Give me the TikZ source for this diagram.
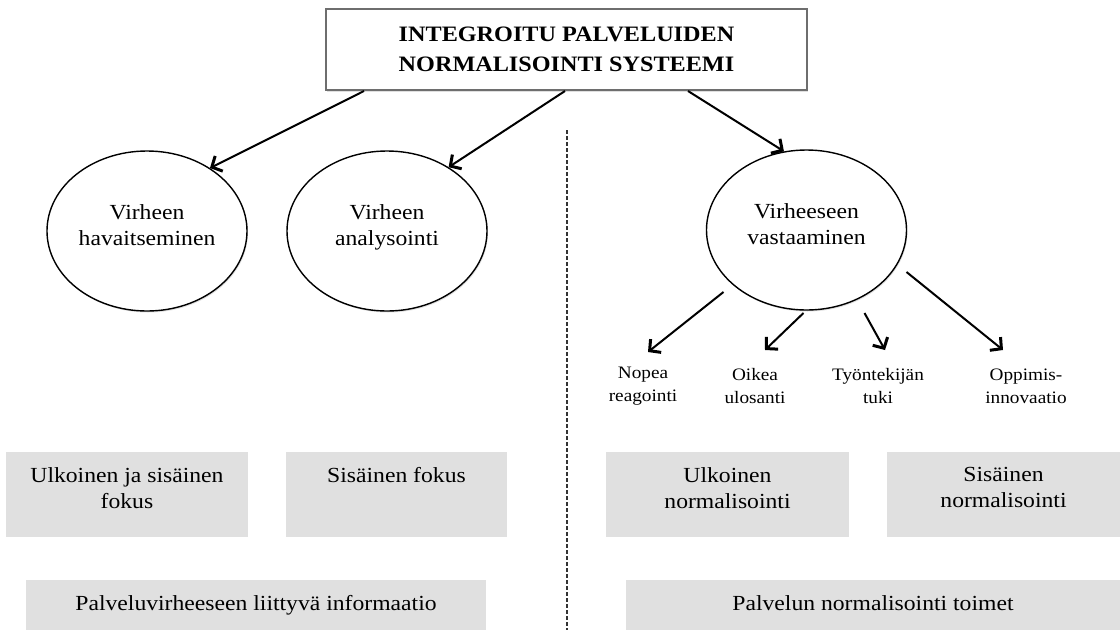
\documentclass[tikz,border=0pt]{standalone}
\usepackage{fontspec}
\setmainfont{Liberation Serif}[FakeStretch=1.1]
\usetikzlibrary{arrows.meta,shapes.geometric,calc,shadows}
\definecolor{boxgray}{RGB}{224,224,224}
\definecolor{framegray}{RGB}{110,110,110}
\begin{document}
\begin{tikzpicture}[x=1pt,y=-1pt,
  mainfnt/.style={font=\fontsize{21.5}{26}\selectfont},
  smallfnt/.style={font=\fontsize{17.5}{23}\selectfont},
  titlefnt/.style={font=\fontsize{22}{30}\selectfont\bfseries},
  topbox/.style={draw=framegray, line width=2pt, fill=white, titlefnt, align=center, inner sep=0pt,
    drop shadow={opacity=0.25, shadow xshift=1pt, shadow yshift=-1.5pt}},
  oval/.style={ellipse, draw, line width=1.4pt, fill=white, minimum width=200pt, minimum height=160pt,
    inner sep=0pt, mainfnt, align=center,
    drop shadow={opacity=0.25, shadow xshift=1pt, shadow yshift=-1.5pt}},
  graybox/.style={fill=boxgray, inner sep=0pt},
  boxlbl/.style={anchor=north, yshift=-12pt, mainfnt, align=center},
  sublbl/.style={smallfnt, align=center, inner sep=2pt},
  arr/.style={line width=2pt, -{Straight Barb[length=8pt, width=17pt, line width=3pt]}},
  divider/.style={line width=2.8pt, dash pattern=on 4pt off 2pt, draw=black!80}
]
\useasboundingbox (0,0) rectangle (1120,630);

% title
\node[topbox, minimum width=481pt, minimum height=81pt] (top) at (566.5,49.5)
  {INTEGROITU PALVELUIDEN\\NORMALISOINTI SYSTEEMI};

% ellipses
\node[oval] (e1) at (147,231) {Virheen\\havaitseminen\rule[-12pt]{0pt}{12pt}};
\node[oval] (e2) at (387,231) {Virheen\\analysointi\rule[-12pt]{0pt}{12pt}};
\node[oval] (ve) at (806.5,230) {Virheeseen\\vastaaminen\rule[-12pt]{0pt}{12pt}};

% arrows from title
\draw[arr] ($(top.south west)+(39,0)$) -- (e1.45);
\draw[arr] ($(top.south)+(-1.5,0)$) -- (e2.46);
\draw[arr] ($(top.south east)+(-120,0)$) -- (ve.106);

% divider
\coordinate (dtop) at (567,130);
\coordinate (dbot) at (567,630);
\draw[divider] (dtop) -- (dbot);

% sub labels
\node[sublbl] (nopea) at (643,386) {Nopea\\reagointi};
\node[sublbl] (oikea) at (755,386) {Oikea\\ulosanti};
\node[sublbl] (tyon) at (878,386) {Työntekijän\\tuki};
\node[sublbl] (oppi) at (1026,386) {Oppimis-\\innovaatio};

\draw[arr] ($(ve)+(-83,62)$) -- ($(nopea)+(5,-34)$);
\draw[arr] ($(ve)+(-3,83)$) -- ($(oikea)+(10,-36)$);
\draw[arr] ($(ve)+(58,83)$) -- ($(tyon)+(7,-36)$);
\draw[arr] ($(ve)+(100,42)$) -- ($(oppi)+(-23,-36)$);

% gray boxes
\node[graybox, minimum width=242pt, minimum height=85pt,
  label={[boxlbl]north:Ulkoinen ja sisäinen\\fokus}] (g1) at (127,494.5) {};
\node[graybox, minimum width=221pt, minimum height=85pt,
  label={[boxlbl]north:Sisäinen fokus}] (g2) at (396.5,494.5) {};
\node[graybox, minimum width=460pt, minimum height=50pt,
  label={[boxlbl]north:Palveluvirheeseen liittyvä informaatio}] (g3) at (256,605) {};
\node[graybox, minimum width=243pt, minimum height=85pt,
  label={[boxlbl]north:Ulkoinen\\normalisointi}] (g4) at (727.5,494.5) {};
\node[graybox, minimum width=233pt, minimum height=85pt,
  label={[boxlbl]north:Sisäinen\\normalisointi}] (g5) at (1003.5,494.5) {};
\node[graybox, minimum width=494pt, minimum height=50pt,
  label={[boxlbl]north:Palvelun normalisointi toimet}] (g6) at (873,605) {};
\end{tikzpicture}
\end{document}
